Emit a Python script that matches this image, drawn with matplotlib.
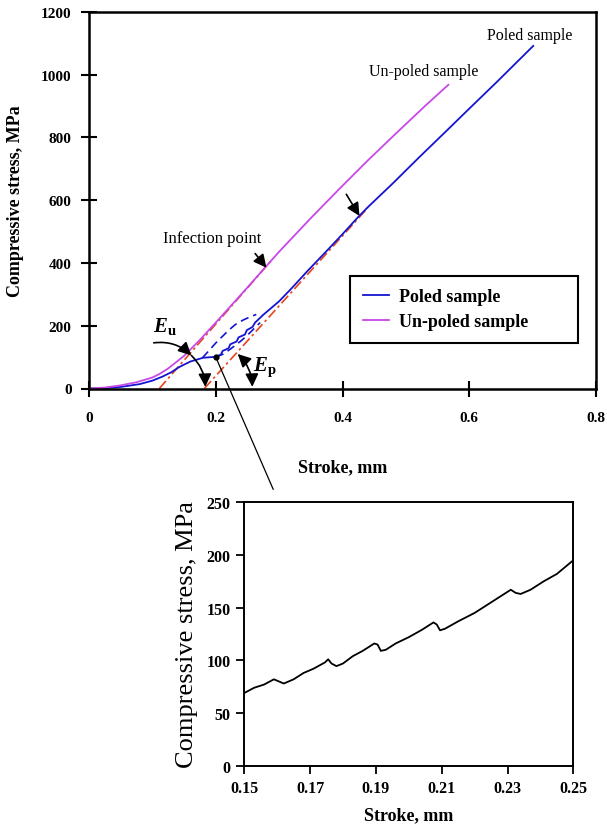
import numpy as np
import matplotlib
matplotlib.use('Agg')
import matplotlib.pyplot as plt
from matplotlib.patches import ConnectionPatch

# poled sample, main curve (stroke mm, stress MPa)
poled_x = [0, 0.025, 0.05, 0.08, 0.1, 0.116, 0.13, 0.142, 0.16, 0.18, 0.2, 0.208, 0.211,
           0.22, 0.223, 0.233, 0.236, 0.246, 0.249, 0.258, 0.262, 0.275, 0.3, 0.32, 0.345,
           0.372, 0.4, 0.424, 0.44, 0.48, 0.52, 0.565, 0.6, 0.643, 0.701]
poled_y = [0, 1, 5, 14, 25, 38, 52, 68, 86, 98, 101, 108, 120,
           128, 141, 150, 163, 172, 186, 196, 210, 235, 278, 320, 375,
           432, 492, 545, 578, 655, 735, 823, 892, 976, 1092]
# unload / reload loops of the poled sample (dashed)
loop1_x = [0.179, 0.189, 0.2, 0.21, 0.22, 0.231, 0.243, 0.255, 0.264]
loop1_y = [98, 120, 145, 165, 185, 204, 218, 229, 236]
loop2_x = [0.2, 0.212, 0.222, 0.231, 0.24, 0.25, 0.26, 0.27]
loop2_y = [100, 110, 124, 138, 152, 170, 190, 210]

unpoled_x = [0, 0.025, 0.05, 0.075, 0.1, 0.111, 0.125, 0.15, 0.175, 0.2, 0.225, 0.25,
             0.278, 0.3, 0.35, 0.393, 0.44, 0.487, 0.53, 0.567]
unpoled_y = [0, 3, 10, 20, 35, 46, 64, 104, 155, 210, 266, 322,
             386, 436, 543, 632, 727, 818, 900, 968]

# tangent lines through the inflection points
unpoled_tan_x = [0.111, 0.29]
unpoled_tan_y = [0, 413]
poled_tan_x = [0.182, 0.44]
poled_tan_y = [0, 576]

# inset: poled sample between 0.15 and 0.25 mm
inset_x = [0.150, 0.153, 0.156, 0.159, 0.1605, 0.162, 0.165, 0.168, 0.171, 0.1745, 0.1755,
           0.1765, 0.178, 0.180, 0.183, 0.186, 0.1895, 0.1905, 0.1915, 0.193, 0.196, 0.200,
           0.204, 0.2075, 0.2085, 0.2095, 0.211, 0.215, 0.220, 0.225, 0.2295, 0.231, 0.2325,
           0.234, 0.237, 0.241, 0.245, 0.250]
inset_y = [69, 74, 77, 82, 80, 78, 82, 88, 92, 98, 101,
           97, 94.5, 97, 104, 109, 116, 115, 109, 110, 116, 122,
           129, 136, 134, 128.5, 130, 137, 145, 155, 164, 167, 164,
           163, 167, 175, 182, 195]

main_xticks = [0, 0.2, 0.4, 0.6, 0.8]
main_xtick_labels = ['0', '0.2', '0.4', '0.6', '0.8']
main_yticks = [0, 200, 400, 600, 800, 1000, 1200]
inset_xticks = [0.15, 0.17, 0.19, 0.21, 0.23, 0.25]
inset_xtick_labels = ['0.15', '0.17', '0.19', '0.21', '0.23', '0.25']
inset_yticks = [0, 50, 100, 150, 200, 250]

plt.rcParams['font.family'] = 'Liberation Serif'
plt.rcParams['mathtext.fontset'] = 'custom'
plt.rcParams['mathtext.rm'] = 'Liberation Serif:bold'
plt.rcParams['mathtext.it'] = 'Liberation Serif:italic:bold'
plt.rcParams['mathtext.bf'] = 'Liberation Serif:bold'

BLUE = '#1414d2'
MAGENTA = '#c848e8'
RED = '#e8441c'
W, H = 607, 829

fig = plt.figure(figsize=(W / 100, H / 100), dpi=100)
ax = fig.add_axes([89 / W, 1 - 389.5 / H, 507 / W, 376.5 / H])
ins = fig.add_axes([244.3 / W, 1 - 766.7 / H, 329 / W, 263.4 / H])

# ---- main plot
ax.set_xlim(0, 0.8)
ax.set_ylim(0, 1200)
ax.plot(unpoled_tan_x, unpoled_tan_y, color=RED, lw=1.2, ls=(0, (6, 2, 1.5, 2)))
ax.plot(poled_tan_x, poled_tan_y, color=RED, lw=1.2, ls=(0, (6, 2, 1.5, 2)))
ax.plot(loop1_x, loop1_y, color=BLUE, lw=1.2, ls=(0, (5, 3)))
ax.plot(loop2_x, loop2_y, color=BLUE, lw=1.2, ls=(0, (5, 3)))
ax.plot(poled_x, poled_y, color=BLUE, lw=1.3, label='Poled sample')
ax.plot(unpoled_x, unpoled_y, color=MAGENTA, lw=1.3, label='Un-poled sample')

ax.set_xticks(main_xticks)
ax.set_xticklabels(main_xtick_labels)
ax.set_yticks(main_yticks)
ax.tick_params(direction='inout', length=11, width=1.5, labelsize=11)
ax.tick_params(axis='x', pad=11)
ax.tick_params(axis='y', pad=7)
for lab in ax.get_xticklabels() + ax.get_yticklabels():
    lab.set_fontweight('bold')
for sp in ax.spines.values():
    sp.set_linewidth(1.8)

ax.set_xlabel('Stroke, mm', fontsize=13, fontweight='bold', va='center')
ax.xaxis.set_label_coords(0.5, -(468 - 389.5) / 376.5)
ax.set_ylabel('Compressive stress, MPa', fontsize=13, fontweight='bold', va='center')
ax.yaxis.set_label_coords(-(89 - 16) / 507, 0.5)

leg = ax.legend(loc='upper left', bbox_to_anchor=(0.515, 0.1137, 0.45, 0.186), mode='expand',
                prop={'weight': 'bold', 'size': 13}, fancybox=False, edgecolor='k',
                framealpha=1, borderpad=0.7, labelspacing=0.45, handlelength=1.45,
                handletextpad=0.55, borderaxespad=0)
leg.get_frame().set_linewidth(1.5)

ax.text(0.6953, 1128, 'Poled sample', fontsize=11.5, ha='center', va='center')
ax.text(0.5285, 1011, 'Un-poled sample', fontsize=11.5, ha='center', va='center')
ax.text(0.1945, 481, 'Infection point', fontsize=12, ha='center', va='center')

arrow_kw = dict(arrowstyle='-|>,head_length=0.6,head_width=0.3', color='k', lw=1.2,
                shrinkA=0, shrinkB=0, mutation_scale=13)
ax.annotate('', xy=(0.280, 385), xytext=(0.2622, 430), arrowprops=arrow_kw)
ax.annotate('', xy=(0.4268, 550), xytext=(0.406, 619), arrowprops=arrow_kw)


def angle_arrow(center, r, a_from, a_to, style):
    c = ax.transData.transform(center)
    inv = ax.transData.inverted()
    p0 = inv.transform(c + r * np.array([np.cos(np.radians(a_from)), np.sin(np.radians(a_from))]))
    p1 = inv.transform(c + r * np.array([np.cos(np.radians(a_to)), np.sin(np.radians(a_to))]))
    rad = -np.tan(np.radians(abs(a_from - a_to)) / 2) / 2
    kw = dict(arrow_kw)
    kw['arrowstyle'] = style
    kw['connectionstyle'] = 'arc3,rad=%.3f' % rad
    ax.annotate('', xy=p1, xytext=p0, arrowprops=kw)


angle_arrow((0.111, 0), 46, 97, 46, '-|>,head_length=0.6,head_width=0.3')
angle_arrow((0.111, 0), 46, 46, 2, '-|>,head_length=0.6,head_width=0.3')
angle_arrow((0.182, 0), 48, 46, 2, '<|-|>,head_length=0.6,head_width=0.3')

ax.text(0.119, 200, r'$E_{\mathrm{u}}$', fontsize=15, ha='center', va='center')
ax.text(0.2767, 70, r'$E_{\mathrm{p}}$', fontsize=15, ha='center', va='center')

ax.plot(0.2, 100, 'o', ms=3.5, color='k')

# ---- inset
ins.plot(inset_x, inset_y, color='k', lw=1.3)
ins.set_xlim(0.15, 0.25)
ins.set_ylim(0, 250)
ins.set_xticks(inset_xticks)
ins.set_xticklabels(inset_xtick_labels)
ins.set_yticks(inset_yticks)
ins.tick_params(direction='out', length=6, width=1.3, labelsize=11.5, pad=4)
for lab in ins.get_xticklabels() + ins.get_yticklabels():
    lab.set_fontweight('bold')
for sp in ins.spines.values():
    sp.set_linewidth(1.4)
ins.set_xlabel('Stroke, mm', fontsize=13, fontweight='bold', va='center')
ins.xaxis.set_label_coords(0.5, -(816 - 766.7) / 263.4)
ins.set_ylabel('Compressive stress, MPa', fontsize=19, va='center')
ins.yaxis.set_label_coords(-(244.3 - 187) / 329, 0.5)

con = ConnectionPatch(xyA=(0.2, 100), coordsA=ax.transData,
                      xyB=(0.088, 1.049), coordsB=ins.transAxes, color='k', lw=0.9)
fig.add_artist(con)

fig.savefig('out.png', dpi=100)
